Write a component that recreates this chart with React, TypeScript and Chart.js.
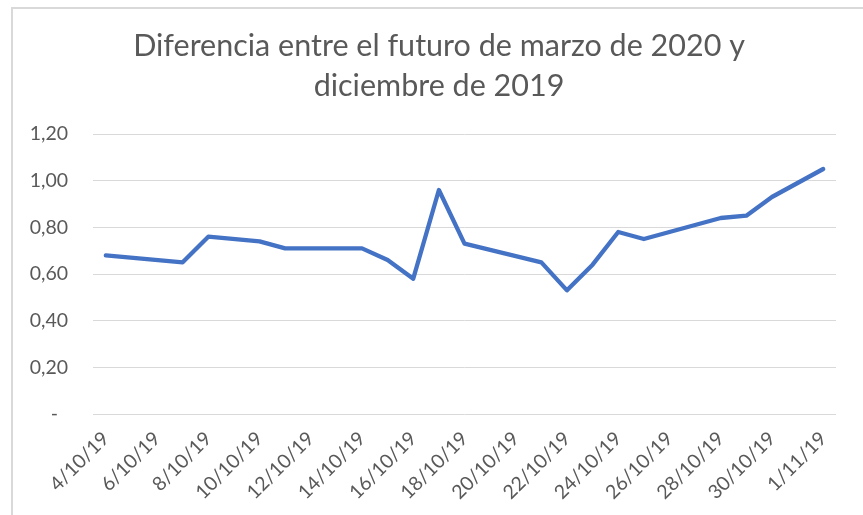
import React, { useEffect, useRef } from "react";
import { Chart, registerables } from "chart.js";

Chart.register(...registerables);

const titleLines = ["Diferencia entre el futuro de marzo de 2020 y", "diciembre de 2019"];

const days = [
  "4/10/19", "5/10/19", "6/10/19", "7/10/19", "8/10/19", "9/10/19", "10/10/19",
  "11/10/19", "12/10/19", "13/10/19", "14/10/19", "15/10/19", "16/10/19", "17/10/19",
  "18/10/19", "19/10/19", "20/10/19", "21/10/19", "22/10/19", "23/10/19", "24/10/19",
  "25/10/19", "26/10/19", "27/10/19", "28/10/19", "29/10/19", "30/10/19", "31/10/19",
  "1/11/19",
];

const spread: (number | null)[] = [
  0.68, null, null, 0.65, 0.76, null, 0.74,
  0.71, null, null, 0.71, 0.66, 0.58, 0.96,
  0.73, null, null, 0.65, 0.53, 0.64, 0.78,
  0.75, null, null, 0.84, 0.85, 0.93, null,
  1.05,
];

const yTicks = [0, 0.2, 0.4, 0.6, 0.8, 1.0, 1.2];

const FONT = "Lato, 'Open Sans', sans-serif";
const TEXT = "#595959";

export default function App() {
  const ref = useRef<HTMLCanvasElement | null>(null);

  useEffect(() => {
    if (!ref.current) return;
    const titlePlugin = {
      id: "customTitle",
      afterDraw(chart: any) {
        const ctx = chart.ctx;
        ctx.save();
        ctx.fillStyle = TEXT;
        ctx.font = `30.5px ${FONT}`;
        ctx.textAlign = "center";
        ctx.textBaseline = "middle";
        ctx.fillText(titleLines[0], 439, 46);
        ctx.fillText(titleLines[1], 439, 86);
        ctx.restore();
      },
      beforeDraw(chart: any) {
        const ctx = chart.ctx;
        ctx.save();
        ctx.fillStyle = "#ffffff";
        ctx.fillRect(0, 0, chart.width, chart.height);
        ctx.strokeStyle = "#d9d9d9";
        ctx.lineWidth = 2;
        ctx.strokeRect(12, 8, chart.width + 20, chart.height + 20);
        ctx.restore();
      },
    };
    const chart = new Chart(ref.current, {
      type: "line",
      data: {
        labels: days,
        datasets: [
          {
            data: spread,
            borderColor: "#4472C4",
            backgroundColor: "#4472C4",
            borderWidth: 4.3,
            pointRadius: 0,
            tension: 0,
            spanGaps: true,
            borderJoinStyle: "round",
            borderCapStyle: "round",
          },
        ],
      },
      options: {
        animation: false,
        responsive: false,
        layout: { padding: { top: 134, right: 27, left: 0, bottom: 0 } },
        plugins: { legend: { display: false }, title: { display: false }, tooltip: { enabled: false } },
        scales: {
          x: {
            type: "category",
            offset: true,
            grid: { display: false, drawTicks: false },
            border: { display: false },
            ticks: {
              autoSkip: false,
              maxRotation: 45,
              minRotation: 45,
              padding: 13,
              color: TEXT,
              font: { family: FONT, size: 19.5 },
              callback: function (this: any, val: any, idx: number) {
                return idx % 2 === 0 ? days[idx] : null;
              },
            },
            afterFit: (axis: any) => {
              axis.height = 101;
            },
          },
          y: {
            min: 0,
            max: 1.2,
            afterBuildTicks: (axis: any) => {
              axis.ticks = yTicks.map((v) => ({ value: v }));
            },
            grid: { color: "#d9d9d9", lineWidth: 1, drawTicks: false },
            border: { display: false },
            ticks: {
              padding: 25,
              color: TEXT,
              font: { family: FONT, size: 19.5 },
              callback: (v: any) => (Number(v) === 0 ? "-  " : Number(v).toFixed(2).replace(".", ",")),
            },
            afterFit: (axis: any) => {
              axis.width = 93;
            },
          },
        },
      },
      plugins: [titlePlugin],
    } as any);
    return () => chart.destroy();
  }, []);

  return (
    <div style={{ position: "fixed", left: 0, top: 0, width: 863, height: 515, background: "#fff" }}>
      <canvas ref={ref} width={863} height={515} style={{ display: "block" }} />
    </div>
  );
}
